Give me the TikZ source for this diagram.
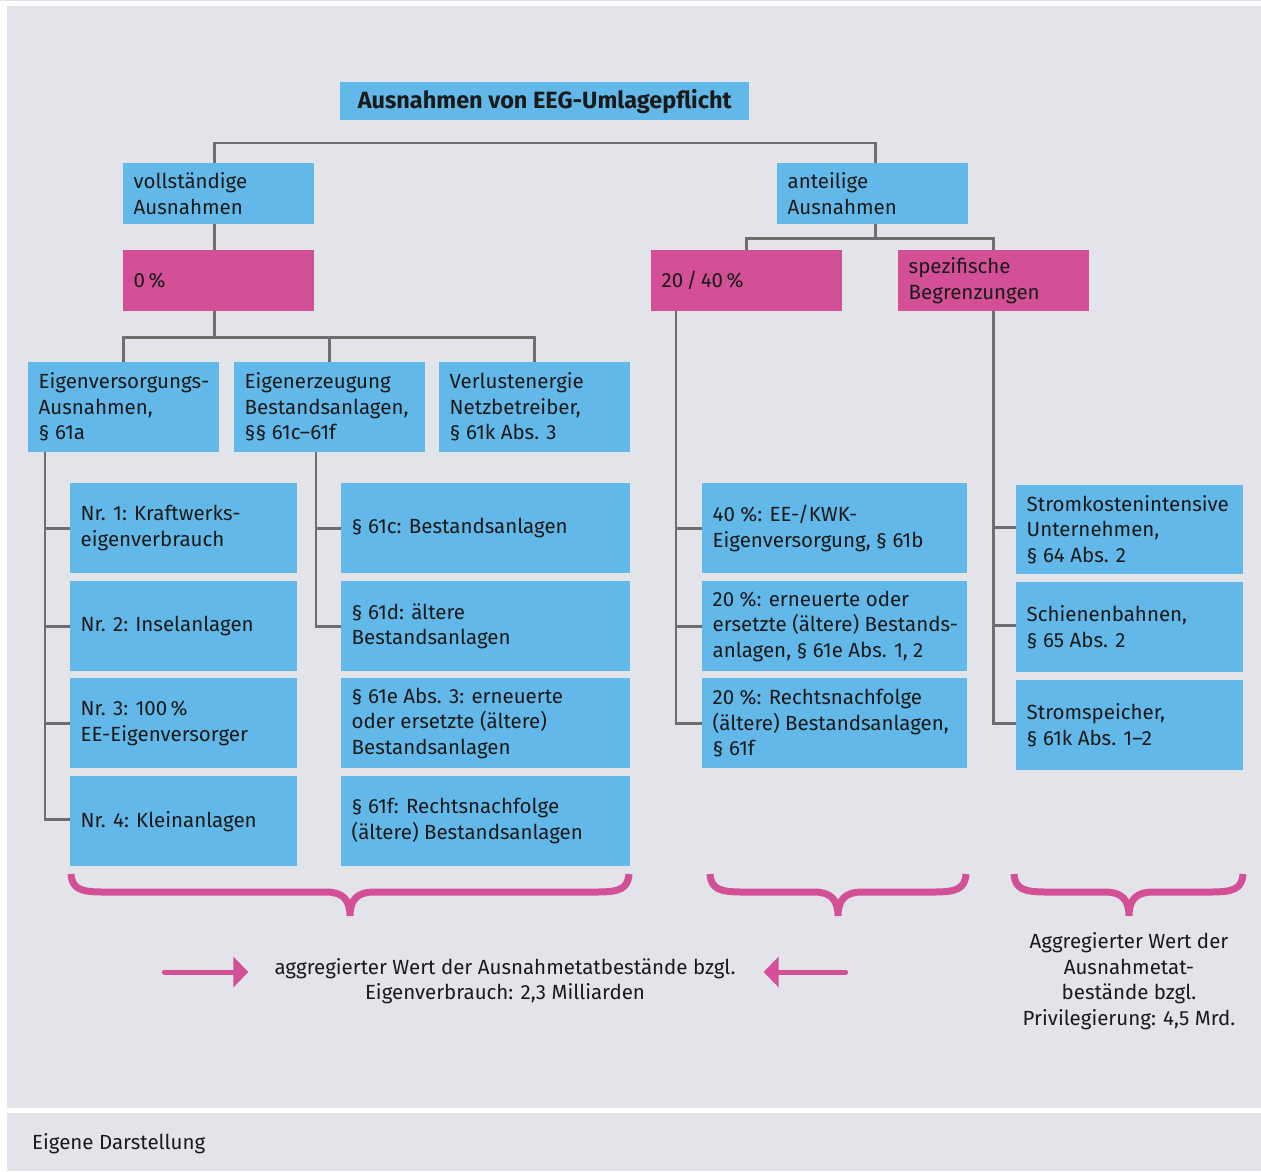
\documentclass[tikz,border=0pt]{standalone}
\usepackage{fontspec}
\setmainfont{Fira Sans}
\usetikzlibrary{arrows.meta}
\definecolor{bgc}{HTML}{E3E4EA}
\definecolor{eblue}{HTML}{62B8E8}
\definecolor{emag}{HTML}{D35096}
\definecolor{lgray}{HTML}{6E6E6E}
\definecolor{txt}{HTML}{1A1A1A}
\newcommand{\diabox}[7][bx]{%
  \node[#1, minimum width=#5pt, minimum height=#6pt] (#2) at (#3,#4) {};
  \node[tx] (#2t) at ([xshift=10.5pt]#2.west) {#7};}
\newcommand{\hbrace}[3]{%
  \draw[brc] (#1,874) .. controls (#1+1,889) and (#1+10,892) .. (#1+32,892)
    -- (#3-24,892) .. controls (#3-8,892) and (#3,899) .. (#3,916)
    .. controls (#3,899) and (#3+8,892) .. (#3+24,892)
    -- (#2-32,892) .. controls (#2-10,892) and (#2-1,889) .. (#2,874);}
\begin{document}
\begin{tikzpicture}[x=1pt,y=-1pt,
  bx/.style={rectangle, fill=eblue, anchor=north west, inner sep=0pt},
  mx/.style={bx, fill=emag},
  tx/.style={anchor=west, align=left, inner sep=0pt, text=txt, font=\fontsize{20.5}{25.5}\selectfont},
  conn/.style={draw=lgray, line width=2.6pt},
  brc/.style={draw=emag, line width=7pt},
  arr/.style={draw=emag, line width=5pt, line cap=round, -{Triangle[length=15pt,width=30pt]}},
]
\useasboundingbox (0,0) rectangle (1261,1171);
% background
\fill[white] (0,0) rectangle (1261,1171);
\fill[bgc] (0,0) rectangle (1261,1.2);
\fill[bgc] (7,6) rectangle (1261,1108);
\fill[bgc] (7,1113) rectangle (1261,1171);

% title
\node[bx, minimum width=409pt, minimum height=38pt, text=txt,
      font=\bfseries\fontsize{23.5}{27}\selectfont] (title) at (340,82) {Ausnahmen von EEG-Umlagepflicht};

% level 1
\diabox{voll}{123}{163}{191}{61}{vollständige\\Ausnahmen}
\diabox{ant}{777}{163}{191}{61}{anteilige\\Ausnahmen}
% level 2
\diabox[mx]{null}{123}{250}{191}{61}{0\,\%}
\diabox[mx]{zw}{651}{250}{191}{61}{20\,/\,40\,\%}
\diabox[mx]{spez}{898}{250}{191}{61}{spezifische\\Begrenzungen}
% level 3
\diabox{eig}{28}{362}{191}{90}{Eigenversorgungs-\\Ausnahmen,\\§ 61a}
\diabox{eiz}{234}{362}{191}{90}{Eigenerzeugung\\Bestandsanlagen,\\§§ 61c–61f}
\diabox{ver}{439}{362}{191}{90}{Verlustenergie\\Netzbetreiber,\\§ 61k Abs. 3}
% leaves
\diabox{n1}{70}{483}{227}{90}{Nr. 1: Kraftwerks-\\eigenverbrauch}
\diabox{n2}{70}{581}{227}{90}{Nr. 2: Inselanlagen}
\diabox{n3}{70}{678}{227}{90}{Nr. 3: 100\,\%\\EE-Eigenversorger}
\diabox{n4}{70}{776}{227}{90}{Nr. 4: Kleinanlagen}
\diabox{p1}{341}{483}{289}{90}{§ 61c: Bestandsanlagen}
\diabox{p2}{341}{581}{289}{90}{§ 61d: ältere\\Bestandsanlagen}
\diabox{p3}{341}{678}{289}{90}{§ 61e Abs. 3: erneuerte\\oder ersetzte (ältere)\\Bestandsanlagen}
\diabox{p4}{341}{776}{289}{90}{§ 61f: Rechtsnachfolge\\(ältere) Bestandsanlagen}
\diabox{a1}{702}{483}{265}{90}{40 \%: EE-/KWK-\\Eigenversorgung, § 61b}
\diabox{a2}{702}{581}{265}{90}{20 \%: erneuerte oder\\ersetzte (ältere) Bestands-\\anlagen, § 61e Abs. 1, 2}
\diabox{a3}{702}{678}{265}{90}{20 \%: Rechtsnachfolge\\(ältere) Bestandsanlagen,\\§ 61f}
\diabox{s1}{1016}{485}{227}{89}{Stromkostenintensive\\Unternehmen,\\§ 64 Abs. 2}
\diabox{s2}{1016}{582}{227}{90}{Schienenbahnen,\\§ 65 Abs. 2}
\diabox{s3}{1016}{680}{227}{90}{Stromspeicher,\\§ 61k Abs. 1–2}

% connectors
\draw[conn] ([xshift=-4.5pt]voll.north) -- ++(0,-20) -| ([xshift=2.5pt]ant.north);
\draw[conn] ([xshift=-4.5pt]voll.south) -- ([xshift=-4.5pt]null.north);
\draw[conn] ([xshift=2.5pt]ant.south) -- ++(0,14) coordinate (antj);
\draw[conn] (zw.north) |- (antj) -| (spez.north);
\draw[conn] ([xshift=-4.5pt]null.south) -- ++(0,26) coordinate (nullj);
\draw[conn] (eig.north) |- (nullj) -| (ver.north);
\draw[conn] (eiz.north) -- (eiz.north |- nullj);
% left bus
\coordinate (b1) at ([xshift=17pt]eig.south west);
\draw[conn] (b1) |- ([yshift=2pt]n4.west);
\foreach \n in {n1,n2,n3} \draw[conn] (\n.west) -- (\n.west -| b1);
% second bus
\coordinate (b2) at ([xshift=82pt]eiz.south west);
\draw[conn] (b2) |- (p2.west);
\draw[conn] (p1.west) -- (p1.west -| b2);
% 20/40 bus
\coordinate (b3) at ([xshift=25pt]zw.south west);
\draw[conn] (b3) |- (a3.west);
\foreach \n in {a1,a2} \draw[conn] (\n.west) -- (\n.west -| b3);
% spezifische bus
\draw[conn] (spez.south) |- ([yshift=2pt]s3.west);
\foreach \n in {s1,s2} \draw[conn] ([yshift=2pt]\n.west) -- ([yshift=2pt]\n.west -| spez.south);

% braces
\hbrace{71}{629}{350}
\hbrace{710}{966}{838}
\hbrace{1014}{1243}{1129}

% bottom texts
\node[tx, anchor=center, align=center] (agg) at (505,981)
  {aggregierter Wert der Ausnahmetatbestände bzgl.\\Eigenverbrauch: 2,3 Milliarden};
\node[tx, anchor=center, align=center] (priv) at (1129,981)
  {Aggregierter Wert der\\Ausnahmetat-\\bestände bzgl.\\Privilegierung: 4,5 Mrd.};
\draw[arr] ([xshift=-110pt,yshift=9pt]agg.west) -- ([xshift=-26pt,yshift=9pt]agg.west);
\draw[arr] ([xshift=110pt,yshift=9pt]agg.east) -- ([xshift=28pt,yshift=9pt]agg.east);

\node[tx] (src) at (32,1144) {Eigene Darstellung};
\end{tikzpicture}
\end{document}
